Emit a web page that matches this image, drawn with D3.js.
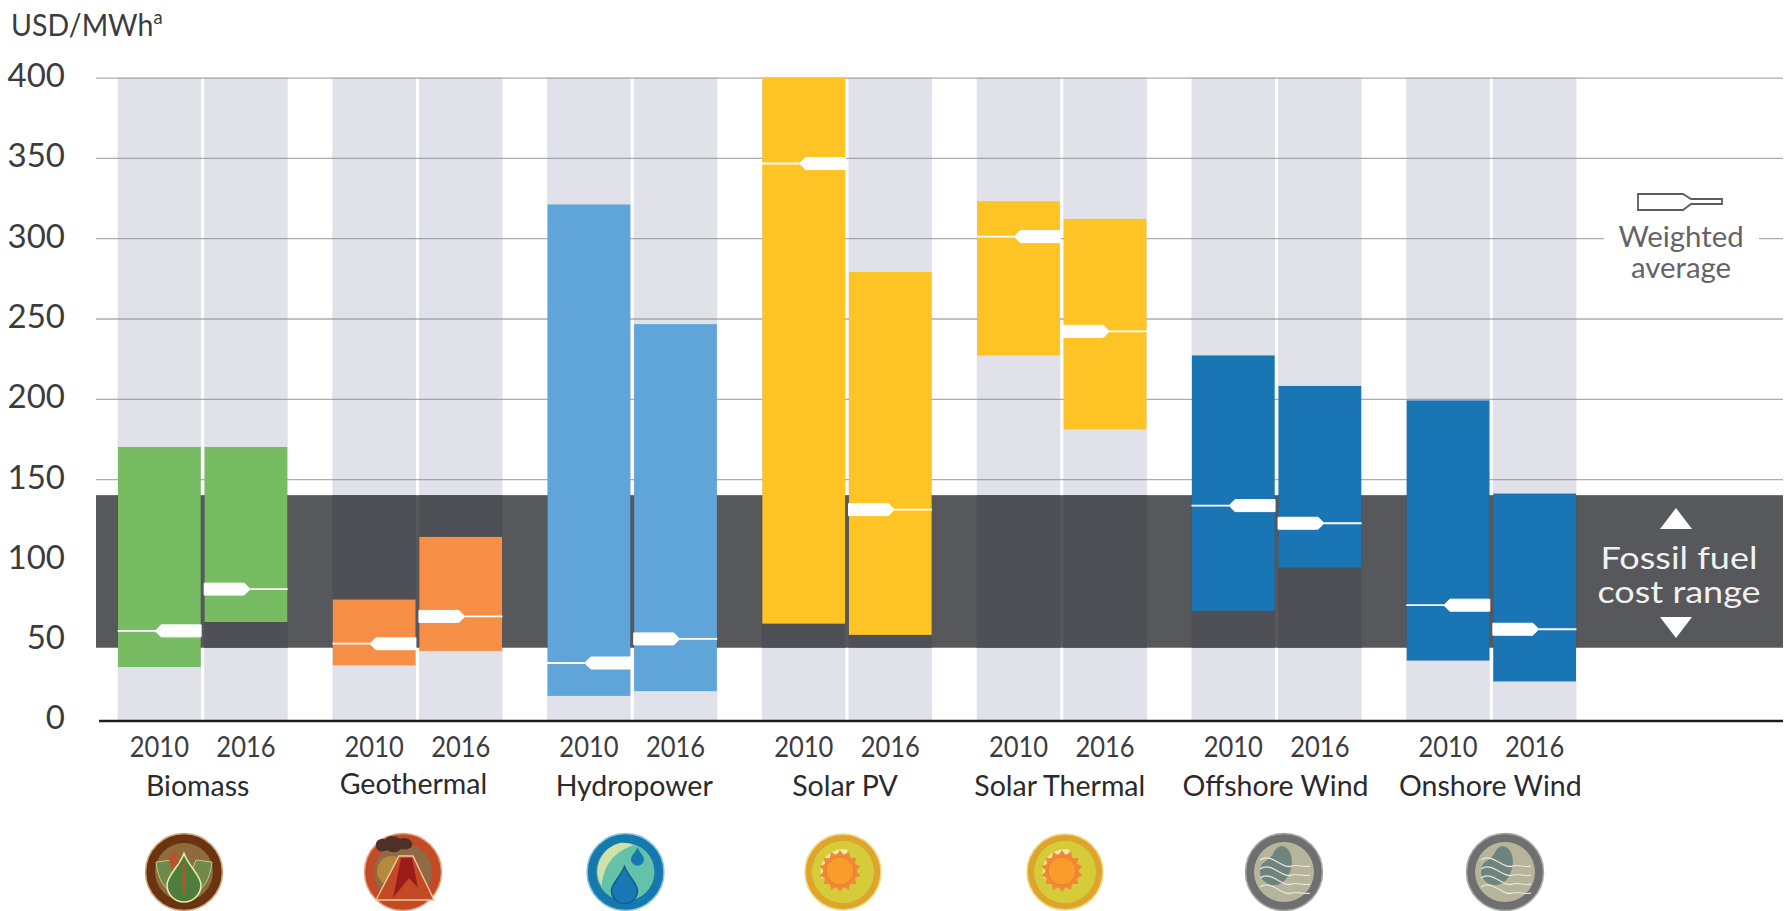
<!DOCTYPE html>
<html><head><meta charset="utf-8">
<script src="https://cdn.jsdelivr.net/npm/d3@7"></script>
<style>
html,body{margin:0;padding:0;background:#fff;overflow:hidden}
svg{display:block}
text{font-family:Lato,"Open Sans",sans-serif;}
</style></head><body>
<svg id="c" width="1790" height="911"></svg>
<script>
const categories=["Biomass","Geothermal","Hydropower","Solar PV","Solar Thermal","Offshore Wind","Onshore Wind"];
const years=["2010","2016"];
const low2010=[33,34,15,60,227,68,37];
const high2010=[170,75,321,400,323,227,199];
const avg2010=[55.5,47.5,35.5,346.5,301,133.5,71.5];
const low2016=[61,43,18,53,181,95,24];
const high2016=[170,114,246.5,279,312,208,141];
const avg2016=[81.5,64.5,50.5,131,242,122.5,56.5];
const fossilRange=[45,140];
const yTicks=[0,50,100,150,200,250,300,350,400];
const colors=["#77bb63","#f68f45","#5fa5d9","#fec426","#fec426","#1a75b4","#1a75b4"];
const iconKinds=["biomass","geothermal","hydro","solar","solar","wind","wind"];
const yLabel="USD/MWh";

const svg=d3.select("#c");
const left=96,right=1783;
const y=d3.scaleLinear().domain([0,400]).range([720,77.6]);
const x0=d3.scaleBand().domain(categories).range([117.6,1576.4]).paddingInner(0.208).paddingOuter(0);
const x1=d3.scaleBand().domain(years).range([0,x0.bandwidth()]).paddingInner(0.035);
const rows=categories.flatMap((c,i)=>[
 {c,i,year:"2010",lo:low2010[i],hi:high2010[i],avg:avg2010[i]},
 {c,i,year:"2016",lo:low2016[i],hi:high2016[i],avg:avg2016[i]}]);

// background bands
svg.append("g").selectAll("rect").data(rows).join("rect")
 .attr("x",d=>x0(d.c)+x1(d.year)).attr("width",x1.bandwidth())
 .attr("y",y(400)).attr("height",y(0)-y(400)).attr("fill","#e0e1e9");

// y axis with grid
const ax=svg.append("g").attr("transform",`translate(${left},0)`)
 .call(d3.axisLeft(y).tickValues(yTicks).tickSize(-(right-left)).tickPadding(31));
ax.select(".domain").remove();
ax.selectAll(".tick line").attr("stroke","#8f9096").attr("stroke-opacity",d=>d===0?0:0.75).attr("stroke-width",1.3);
ax.selectAll(".tick text").attr("fill","#3c3c3e").attr("dy","0.27em").style("font-size","33px").style("font-family","Lato,sans-serif").style("font-weight",400);

// fossil range
svg.append("rect").attr("x",left).attr("width",right-left)
 .attr("y",y(fossilRange[1])).attr("height",y(fossilRange[0])-y(fossilRange[1])).attr("fill","#57585c");
svg.append("g").selectAll("rect").data(rows).join("rect")
 .attr("x",d=>x0(d.c)+x1(d.year)).attr("width",x1.bandwidth())
 .attr("y",y(fossilRange[1])).attr("height",y(fossilRange[0])-y(fossilRange[1])).attr("fill","#4f5056");

// range bars
svg.append("g").selectAll("rect").data(rows).join("rect")
 .attr("x",d=>x0(d.c)+x1(d.year)+0.4).attr("width",x1.bandwidth()-0.8)
 .attr("y",d=>y(d.hi)).attr("height",d=>y(d.lo)-y(d.hi)).attr("fill",d=>colors[d.i]);

// weighted average markers
const pillLen=46,pillH=6,taper=6;
const mk=svg.append("g");
rows.forEach(d=>{
 const bx=x0(d.c)+x1(d.year),w=x1.bandwidth(),cy=y(d.avg);
 const dir=d.year==="2010"?-1:1;
 const inner=d.year==="2010"?bx+w:bx, outer=d.year==="2010"?bx:bx+w;
 const p=d3.path();
 p.moveTo(inner,cy-pillH);
 p.lineTo(inner+dir*(pillLen-taper),cy-pillH);
 p.lineTo(inner+dir*pillLen,cy);
 p.lineTo(inner+dir*(pillLen-taper),cy+pillH);
 p.lineTo(inner,cy+pillH);
 p.closePath();
 mk.append("path").attr("d",p.toString()).attr("fill","#fff").attr("stroke","#fff").attr("stroke-width",1).attr("stroke-linejoin","round");
 mk.append("line").attr("x1",inner+dir*pillLen).attr("x2",outer).attr("y1",cy).attr("y2",cy).attr("stroke","#fff").attr("stroke-width",1.8);
});

// x axis line
svg.append("line").attr("x1",99).attr("x2",right).attr("y1",y(0)+1).attr("y2",y(0)+1).attr("stroke","#1d1d1f").attr("stroke-width",2.6);

// year labels, horizontally condensed to match the narrow reference face
svg.append("g").selectAll("text").data(rows).join("text")
 .attr("transform",d=>`translate(${x0(d.c)+x1(d.year)+x1.bandwidth()/2},757) scale(0.88,1)`)
 .attr("text-anchor","middle").attr("fill","#3c3c3e").style("font-size","29px").text(d=>d.year);

// group labels
const nudge=[-5,-4,2,-2,-2,-1,-1], lift=[0,-2,0,0,0,0,0];
svg.append("g").selectAll("text").data(categories).join("text")
 .attr("x",(c,i)=>x0(c)+x0.bandwidth()/2+nudge[i]).attr("y",(c,i)=>796+lift[i])
 .attr("text-anchor","middle").attr("fill","#2a2a2c").style("font-size","28.5px").text(c=>c);

// unit label
const ut=svg.append("text").attr("transform","translate(11,36) scale(0.92,1)").attr("fill","#3c3c3e").style("font-size","31px").text(yLabel);
ut.append("tspan").attr("dy",-12).style("font-size","20px").text("a");

// weighted-average legend
svg.append("rect").attr("x",1604).attr("y",222).attr("width",155).attr("height",34).attr("fill","#fff");
svg.append("path").attr("d",d3.line()([[1638,194],[1683,194],[1691,199],[1722,199],[1722,204],[1691,204],[1683,210],[1638,210]])+"Z")
 .attr("fill","#fff").attr("stroke","#5c5c5f").attr("stroke-width",1.8);
[["Weighted",247],["average",278]].forEach(([t,b])=>svg.append("text")
 .attr("transform",`translate(1681,${b}) scale(1.05,1)`).attr("text-anchor","middle").attr("fill","#646467").style("font-size","28px").text(t));

// fossil label
[["Fossil fuel",569],["cost range",603]].forEach(([t,b])=>svg.append("text")
 .attr("transform",`translate(1679,${b}) scale(1.18,1)`).attr("text-anchor","middle").attr("fill","#f1f1f0").style("font-size","30.5px").text(t));
svg.append("path").attr("d","M1660,529L1676,508L1692,529Z").attr("fill","#fff");
svg.append("path").attr("d","M1660,617L1676,638L1692,617Z").attr("fill","#fff");

// icons
const iconCx=[184,403,625.5,843,1065,1284,1505], iconCy=872;
const drop=(g,cx,cy,s,fill,stroke)=>g.append("path")
 .attr("d",`M${cx},${cy-s*1.5}C${cx+s*.3},${cy-s*.7} ${cx+s},${cy-s*.2} ${cx+s},${cy+s*.35}A${s},${s} 0 0 1 ${cx-s},${cy+s*.35}C${cx-s},${cy-s*.2} ${cx-s*.3},${cy-s*.7} ${cx},${cy-s*1.5}Z`)
 .attr("fill",fill).attr("stroke",stroke||"none").attr("stroke-width",1.6);
const icon={
 biomass(g){
  g.append("circle").attr("r",38.5).attr("fill","#6b3410").attr("stroke","#d9a77b").attr("stroke-width",1.5);
  g.append("circle").attr("r",29).attr("fill","#8d6b3e");
  g.append("path").attr("d","M-28,-10L-12,-12L0,18L12,-12L28,-10C26,12 14,24 0,24C-14,24 -26,12 -28,-10Z").attr("fill","#6f8a4a").attr("stroke","#c9c98e").attr("stroke-width",1);
  drop(g,0,7,17,"#4f7d3c","#f0e8a8");
  g.append("path").attr("d","M-16,-16L-8,-22L-5,-10L-12,-2Z").attr("fill","#b5552e");
  g.append("line").attr("x1",0).attr("x2",0).attr("y1",-8).attr("y2",22).attr("stroke","#b5552e").attr("stroke-width",2.5);
 },
 geothermal(g){
  g.append("circle").attr("r",38.5).attr("fill","#c24a25").attr("stroke","#e3a27f").attr("stroke-width",1.5);
  g.append("circle").attr("r",29).attr("fill","#8f6a45");
  g.append("circle").attr("cx",-11).attr("cy",-1).attr("r",15).attr("fill","#b58a3e");
  g.append("path").attr("d","M-4,-16L10,-16L31,28L-27,28Z").attr("fill","#c24a25").attr("stroke","#f0c8a0").attr("stroke-width",1.4);
  g.append("path").attr("d","M-2,-14L9,-14L15,16L6,6L-10,26Z").attr("fill","#9c1c1c");
  g.append("path").attr("d","M-27,-26C-28,-32 -22,-34 -18,-33C-14,-38 -6,-36 -3,-33C2,-36 11,-32 9,-26C8,-23 2,-22 -2,-23C-6,-18 -14,-20 -16,-22C-21,-19 -27,-21 -27,-26Z").attr("fill","#4e3026");
 },
 hydro(g){
  g.append("circle").attr("r",38.5).attr("fill","#1579b0").attr("stroke","#8fc4de").attr("stroke-width",1.5);
  g.append("circle").attr("r",29).attr("fill","#64c2a8");
  g.append("path").attr("d","M-6,-29A29,29 0 0 0 -24,14C-22,-6 -12,-20 8,-27A29,29 0 0 0 -6,-29Z").attr("fill","#cfe0a8");
  drop(g,12,-15,6.5,"#1878b4");
  drop(g,-1,14,13,"#1878b4","#0f5f94");
 },
 solar(g){
  g.append("circle").attr("r",38).attr("fill","#dda52c").attr("stroke","#f3d98a").attr("stroke-width",1.5);
  g.append("circle").attr("r",31).attr("fill","#d6cc3a");
  const sun=g.append("g").attr("transform","translate(-3,-1)");
  sun.append("path").attr("d","M-18,8A22,22 0 0 1 8,-21L2,-10L-8,-4Z").attr("fill","#f6eaa4");
  const rays=d3.range(14).map(k=>k*360/14);
  sun.append("circle").attr("r",17).attr("fill","#f0883a");
  sun.append("g").selectAll("path").data(rays).join("path").attr("d","M-3.5,-16L0,-21L3.5,-16Z").attr("transform",a=>`rotate(${a})`).attr("fill","#f0883a");
  sun.append("circle").attr("r",14).attr("fill","#f89c2c").attr("stroke","#e87d2a").attr("stroke-width",1);
 },
 wind(g){
  g.append("circle").attr("r",38.5).attr("fill","#6f6f70").attr("stroke","#a8a8a8").attr("stroke-width",1.5);
  g.append("circle").attr("r",30).attr("fill","#b6b59c");
  g.append("path").attr("d","M-2,-26C8,-24 10,-10 6,0C2,10 -6,16 -16,12C-24,8 -26,0 -22,-8C-18,-12 -12,-14 -10,-20C-8,-24 -5,-26 -2,-26Z").attr("fill","#70847f");
  [-12,-3,6,15].forEach(o=>g.append("path").attr("d",`M-24,${o}C-12,${o-8} -2,${o+10} 8,${o+6}C14,${o+4} 20,${o+8} 26,${o+6}`).attr("fill","none").attr("stroke","#e6e8dc").attr("stroke-width",1.2));
 }
};
iconKinds.forEach((k,i)=>icon[k](svg.append("g").attr("transform",`translate(${iconCx[i]},${iconCy})`)));
</script>
</body></html>
